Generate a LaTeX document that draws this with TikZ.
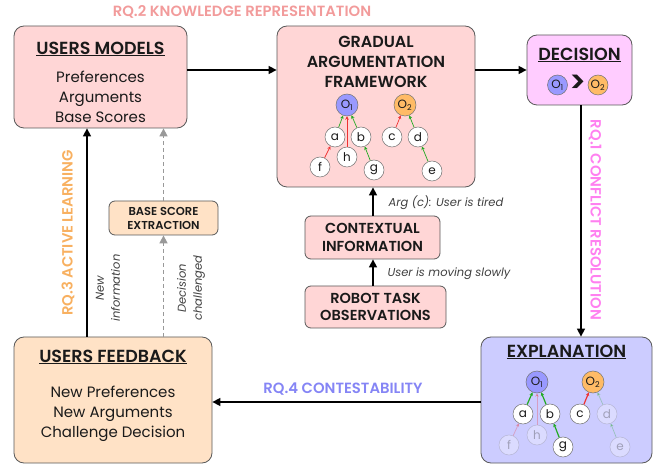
\documentclass[tikz,border=0pt]{standalone}
\usepackage{fontspec}
\setmainfont{Poppins}[BoldFont={Poppins SemiBold}]
\usetikzlibrary{arrows.meta}
\definecolor{pinkbox}{HTML}{FFD6D6}
\definecolor{decbox}{HTML}{FFCCFF}
\definecolor{explbox}{HTML}{CCCCFF}
\definecolor{peachbox}{HTML}{FFE2C6}
\definecolor{oone}{HTML}{9999FF}
\definecolor{otwo}{HTML}{FFBB66}
\definecolor{rqtwo}{HTML}{F29B9B}
\definecolor{rqone}{HTML}{FF80F0}
\definecolor{rqfour}{HTML}{8585F5}
\definecolor{rqthree}{HTML}{F8B060}
\definecolor{attack}{HTML}{EE3333}
\definecolor{support}{HTML}{22AA22}
\definecolor{txt}{HTML}{1A1A1A}
\tikzset{
  box/.style={draw=black!65, line width=0.8pt, rounded corners=10pt},
  smallbox/.style={draw=black!65, line width=0.8pt, rounded corners=6pt},
  arr/.style={line width=1.5pt, -{Triangle[length=8pt,width=8pt]}},
  garr/.style={line width=1.5pt, black!40, dashed, dash pattern=on 4pt off 3pt, -{Triangle[length=8pt,width=8pt]}},
  arg/.style={circle, draw=black!55, line width=0.5pt, fill=white, minimum size=20pt, inner sep=0pt, font=\fontsize{12}{12}\selectfont, text=txt},
  opt/.style={circle, draw=black!55, line width=0.5pt, minimum size=22pt, inner sep=0pt, font=\fontsize{12}{12}\selectfont, text=txt},
  att/.style={attack, line width=0.7pt, -{Stealth[length=3.5pt,width=3.5pt]}},
  sup/.style={support, line width=0.7pt, -{Stealth[length=3.5pt,width=3.5pt]}},
  faded/.style={opacity=0.3},
  ttl/.style={font=\fontsize{17.5}{20}\selectfont\bfseries, text=txt},
  body/.style={font=\fontsize{15}{20}\selectfont, text=txt, align=center},
  sbt/.style={font=\fontsize{14.5}{17.5}\selectfont\bfseries, text=txt, align=center},
  lbl/.style={font=\fontsize{11.5}{16}\selectfont\itshape, text=black!75},
  rq/.style={font=\fontsize{14.8}{16}\selectfont\bfseries},
}
\begin{document}
\begin{tikzpicture}[x=1pt,y=-1pt]
\useasboundingbox (0,0) rectangle (654,465);

% boxes
\node[box, fill=pinkbox, minimum width=173pt, minimum height=102pt] (um) at (100.5,77) {};
\node[box, fill=pinkbox, minimum width=198pt, minimum height=161pt] (gaf) at (376,106.5) {};
\node[box, fill=decbox, minimum width=105pt, minimum height=70pt] (dec) at (579.5,70) {};
\node[box, fill=explbox, minimum width=171pt, minimum height=126pt] (expl) at (566.5,400) {};
\node[box, fill=peachbox, minimum width=198pt, minimum height=126pt] (fb) at (113,400) {};
\node[smallbox, fill=peachbox, minimum width=109pt, minimum height=34pt] (bs) at (163.5,218) {};
\node[smallbox, fill=pinkbox, minimum width=135pt, minimum height=43pt] (ctx) at (372.5,237.5) {};
\node[smallbox, fill=pinkbox, minimum width=141pt, minimum height=42pt] (rob) at (375.5,307) {};

% texts in boxes
\node[ttl] (umt) at (100.5,49) {\underline{USERS MODELS}};
\node[body] (umb) at (100.5,97) {Preferences\\Arguments\\Base Scores};
\node[sbt, font=\fontsize{16}{20}\selectfont\bfseries] (gaft) at (376,62) {GRADUAL\\ARGUMENTATION\\FRAMEWORK};
\node[ttl] (dect) at (579.5,55) {\underline{DECISION}};
\node[ttl] (explt) at (566.5,352) {\underline{EXPLANATION}};
\node[ttl] (fbt) at (113,357) {\underline{USERS FEEDBACK}};
\node[body] (fbb) at (113,414) {New Preferences\\New Arguments\\Challenge Decision};
\node[font=\fontsize{11.5}{14}\selectfont\bfseries, text=txt, align=center] (bst) at (163.5,218) {BASE SCORE\\EXTRACTION};
\node[sbt] (ctxt) at (372.5,237.5) {CONTEXTUAL\\INFORMATION};
\node[sbt] (robt) at (375.5,307) {ROBOT TASK\\OBSERVATIONS};

% decision content
\node[opt, fill=oone, minimum size=20pt] (d1) at (557.5,85) {O\textsubscript{1}};
\node[font=\fontsize{30}{30}\selectfont\bfseries, text=txt, inner sep=0pt] (gt) at (578.5,84) {>};
\node[opt, fill=otwo, minimum size=20pt] (d2) at (598,85) {O\textsubscript{2}};

% GAF tree
\node[opt, fill=oone] (go1) at (347,105) {O\textsubscript{1}};
\node[opt, fill=otwo] (go2) at (405,105) {O\textsubscript{2}};
\node[arg] (ga) at (335,137) {a};
\node[arg] (gb) at (361,137) {b};
\node[arg] (gc) at (392,137) {c};
\node[arg] (gd) at (418,137) {d};
\node[arg] (gh) at (347,157) {h};
\node[arg] (gf) at (320,167) {f};
\node[arg] (gg) at (374,170) {g};
\node[arg] (ge) at (432,171) {e};
\draw[sup] (ga) -- (go1);
\draw[sup] (gb) -- (go1);
\draw[att] (gh) -- (go1);
\draw[att] (gf) -- (ga);
\draw[sup] (gg) -- (gb);
\draw[att] (gc) -- (go2);
\draw[sup] (gd) -- (go2);
\draw[sup] (ge) -- (gd);

% Explanation tree
\node[opt, fill=oone] (eo1) at (537,382) {O\textsubscript{1}};
\node[opt, fill=otwo] (eo2) at (593,382) {O\textsubscript{2}};
\node[arg] (ea) at (523,414) {a};
\node[arg] (eb) at (550,414) {b};
\node[arg] (ec) at (580,414) {c};
\node[arg, faded] (ed) at (607,414) {d};
\node[arg, faded] (eh) at (537,435) {h};
\node[arg, faded] (ef) at (509,445) {f};
\node[arg] (eg) at (563,447) {g};
\node[arg, faded] (ee) at (620,447) {e};
\draw[sup, line width=1.2pt] (ea) -- (eo1);
\draw[sup, line width=1.2pt] (eb) -- (eo1);
\draw[att, faded] (eh) -- (eo1);
\draw[att, faded] (ef) -- (ea);
\draw[sup, line width=1.2pt] (eg) -- (eb);
\draw[att, line width=1.2pt] (ec) -- (eo2);
\draw[sup, faded] (ed) -- (eo2);
\draw[sup, faded] (ee) -- (ed);

% main arrows
\draw[arr] (um.east |- 0,70) -- (gaf.west |- 0,70);
\draw[arr] (gaf.east |- dec.west) -- (dec.west);
\draw[arr] (dec.south -| 581,0) -- (expl.north -| 581,0);
\draw[arr] (expl.west |- 0,402) -- (fb.east |- 0,402);
\draw[arr] (fb.north -| 87,0) -- (um.south -| 87,0);
\draw[garr] (fb.north -| bs.south) -- (bs.south);
\draw[garr] (bs.north) -- (um.south -| bs.north);
\draw[arr] (rob.north -| 373,0) -- (ctx.south -| 373,0);
\draw[arr] (ctx.north -| 373,0) -- (gaf.south -| 373,0);

% labels
\node[rq, text=rqtwo] (rq2) at (242,12) {RQ.2 KNOWLEDGE REPRESENTATION};
\node[rq, text=rqone, rotate=-90] (rq1) at (595,220) {RQ.1 CONFLICT RESOLUTION};
\node[rq, text=rqfour] (rq4) at (343,389) {RQ.4 CONTESTABILITY};
\node[rq, text=rqthree, rotate=90] (rq3) at (68,233) {RQ.3 ACTIVE LEARNING};
\node[lbl, rotate=90, align=center] (ni) at (108,288) {New\\information};
\node[lbl, rotate=90, align=center] (dch) at (191,288) {Decision\\challenged};
\node[lbl, anchor=west] (argc) at (385,203) {Arg (c): User is tired};
\node[lbl, anchor=west] (ums) at (384,274) {User is moving slowly};
\end{tikzpicture}
\end{document}
